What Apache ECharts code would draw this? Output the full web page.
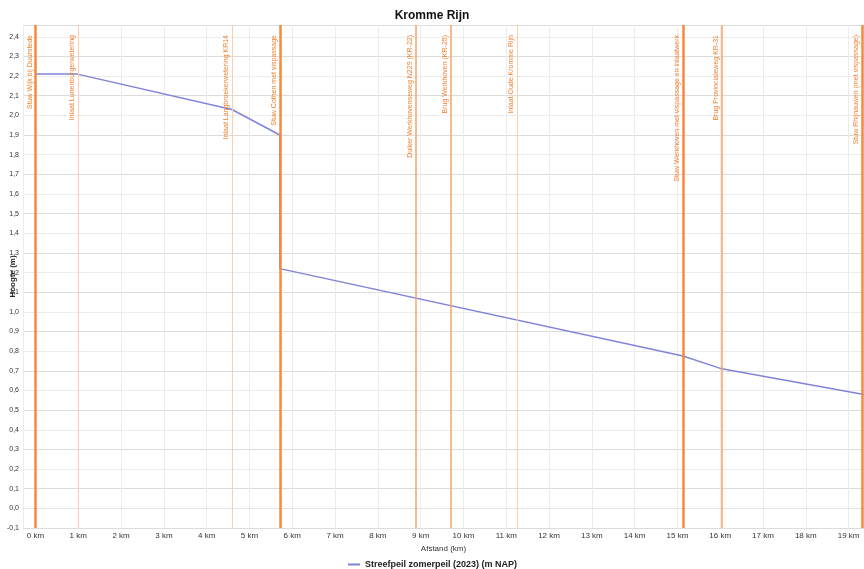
<!DOCTYPE html>
<html>
<head>
<meta charset="utf-8">
<title>Kromme Rijn</title>
<script src="https://cdn.jsdelivr.net/npm/echarts@6/dist/echarts.min.js"></script>
<style>
  html, body { margin: 0; padding: 0; background: #fff; }
  #main { width: 864px; height: 569px; }
</style>
</head>
<body>
<div id="main"></div>
<script>
// streefpeil langs de waterloop (afstand in km, peil in m)
var afstand = [0, 0.98, 4.59, 5.71, 5.71, 15.13, 16.04, 19.36];
var peil = [2.21, 2.21, 2.03, 1.90, 1.22, 0.775, 0.71, 0.58];

// kunstwerken langs de waterloop
var kwNamen = [
  'Stuw Wijk bij Duurstede',
  'Inlaat Lunenburgerwetering',
  'Inlaat Langbroekerwetering KR14',
  'Stuw Cothen met vispassage',
  'Duiker Werkhovenseweg N229 (KR-22)',
  'Brug Werkhoven (KR-25)',
  'Inlaat Oude Kromme Rijn',
  'Stuw Werkhoven met vispassage en inlaatwerk',
  'Brug Provincialeweg KR-31',
  'Stuw Rhijnauwen (met vispassage)'
];
var kwKm = [0, 0.99, 4.59, 5.71, 8.89, 9.71, 11.25, 15.13, 16.04, 19.31];
var kwType = ['stuw', 'inlaat', 'inlaat', 'stuw', 'brug', 'brug', 'inlaat', 'stuw', 'brug', 'stuw'];

var serieNaam = 'Streefpeil zomerpeil (2023) (m NAP)';

// lijnstijl per type kunstwerk
var stijl = {
  stuw:   { color: '#f6893a', width: 2.5 },
  brug:   { color: '#f7a466', width: 1.5 },
  inlaat: { color: '#fbcfab', width: 1 }
};

var markData = [];
for (var i = 0; i < kwKm.length; i++) {
  markData.push({
    name: kwNamen[i],
    xAxis: kwKm[i],
    lineStyle: { color: stijl[kwType[i]].color, width: stijl[kwType[i]].width, type: 'solid' }
  });
}

var lijn = [];
for (var j = 0; j < afstand.length; j++) {
  lijn.push([afstand[j], peil[j]]);
}

var myChart = echarts.init(document.getElementById('main'));
myChart.setOption({
  animation: false,
  title: {
    text: 'Kromme Rijn',
    left: 'center',
    top: 5,
    textStyle: { fontSize: 12, fontWeight: 'bold', color: '#111' }
  },
  legend: {
    top: 555,
    left: 'center',
    itemWidth: 12,
    itemHeight: 2,
    textStyle: { fontSize: 9, fontWeight: 'bold', color: '#222' },
    data: [serieNaam]
  },
  grid: { left: 23, right: 0, top: 25, bottom: 41, containLabel: false, outerBoundsMode: 'none' },
  xAxis: {
    type: 'value',
    min: -0.292,
    max: 19.36,
    minInterval: 1,
    maxInterval: 1,
    name: 'Afstand (km)',
    nameLocation: 'middle',
    nameGap: 17,
    nameMoveOverlap: false,
    nameTextStyle: { fontSize: 8, color: '#333' },
    axisLine: { show: true, lineStyle: { color: '#e4e4e4' } },
    axisTick: { show: false },
    axisLabel: {
      fontSize: 8,
      color: '#333',
      margin: 4,
      showMinLabel: false,
      showMaxLabel: false,
      formatter: function (v) { return v + ' km'; }
    },
    splitLine: { show: true, lineStyle: { color: '#ececec', width: 1 } }
  },
  yAxis: {
    type: 'value',
    min: -0.1,
    max: 2.46,
    interval: 0.1,
    name: 'Hoogte (m)',
    nameLocation: 'middle',
    nameGap: 6,
    nameRotate: 90,
    nameMoveOverlap: false,
    nameTextStyle: { fontSize: 8, fontWeight: 'bold', color: '#222' },
    axisLine: { show: true, lineStyle: { color: '#e4e4e4' } },
    axisTick: { show: false },
    axisLabel: {
      fontSize: 7,
      color: '#333',
      margin: 4,
      showMaxLabel: false,
      formatter: function (v) { return v.toFixed(1).replace('.', ','); }
    },
    splitLine: { show: true, lineStyle: { color: ['#dcdcdc', '#ececec'], width: 1 } }
  },
  series: [{
    name: serieNaam,
    type: 'line',
    data: lijn,
    symbol: 'none',
    lineStyle: { color: '#8084d8', width: 1.5 },
    itemStyle: { color: '#8084d8' },
    markLine: {
      silent: true,
      symbol: ['none', 'none'],
      data: markData,
      label: {
        show: true,
        position: 'insideEndTop',
        formatter: '{b}',
        fontSize: 7,
        color: '#f07f2c',
        distance: [10, 2]
      }
    }
  }]
});
</script>
</body>
</html>
